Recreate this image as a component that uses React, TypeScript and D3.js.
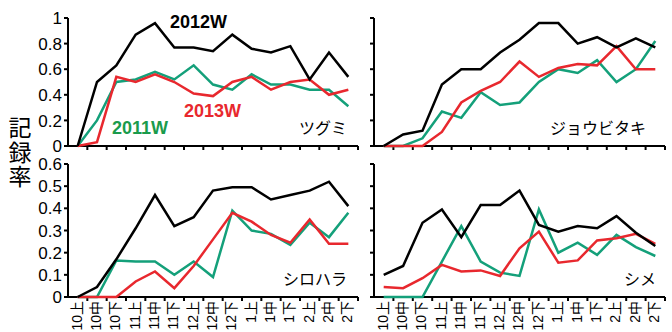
import React from "react";
import * as d3 from "d3";

// 旬 labels (10月上旬 ... 2月下旬)
const periods = ["10上", "10中", "10下", "11上", "11中", "11下", "12上", "12中", "12下", "1上", "1中", "1下", "2上", "2中", "2下"];

// ツグミ
const tsugumi2011 = [0, 0.2, 0.5, 0.52, 0.58, 0.52, 0.63, 0.48, 0.44, 0.56, 0.48, 0.48, 0.44, 0.44, 0.31];
const tsugumi2012 = [0, 0.5, 0.63, 0.87, 0.96, 0.77, 0.77, 0.74, 0.87, 0.76, 0.73, 0.78, 0.52, 0.73, 0.54];
const tsugumi2013 = [0, 0.03, 0.54, 0.5, 0.56, 0.5, 0.41, 0.39, 0.5, 0.54, 0.44, 0.5, 0.52, 0.4, 0.44];

// ジョウビタキ
const joubi2011 = [0, 0, 0.06, 0.27, 0.22, 0.42, 0.32, 0.34, 0.5, 0.6, 0.57, 0.67, 0.5, 0.6, 0.82];
const joubi2012 = [0, 0.09, 0.12, 0.48, 0.6, 0.6, 0.73, 0.83, 0.96, 0.96, 0.8, 0.85, 0.77, 0.84, 0.77];
const joubi2013 = [0, 0, 0, 0.11, 0.34, 0.43, 0.5, 0.66, 0.54, 0.61, 0.64, 0.63, 0.78, 0.6, 0.6];

// シロハラ
const shirohara2011 = [0, 0, 0.165, 0.16, 0.16, 0.1, 0.16, 0.09, 0.39, 0.3, 0.285, 0.235, 0.335, 0.27, 0.38];
const shirohara2012 = [0, 0.045, 0.17, 0.31, 0.46, 0.32, 0.36, 0.48, 0.495, 0.495, 0.44, 0.46, 0.48, 0.52, 0.41];
const shirohara2013 = [0, 0, 0, 0.07, 0.115, 0.04, 0.14, 0.26, 0.38, 0.34, 0.28, 0.245, 0.35, 0.24, 0.24];

// シメ
const shime2011 = [0, 0, 0, 0.16, 0.32, 0.16, 0.11, 0.095, 0.395, 0.2, 0.245, 0.19, 0.28, 0.225, 0.185];
const shime2012 = [0.1, 0.14, 0.335, 0.395, 0.27, 0.415, 0.415, 0.48, 0.325, 0.295, 0.32, 0.31, 0.365, 0.29, 0.23];
const shime2013 = [0.045, 0.04, 0.085, 0.145, 0.115, 0.12, 0.095, 0.22, 0.295, 0.155, 0.165, 0.255, 0.265, 0.285, 0.24];

const topTicks = [0, 0.2, 0.4, 0.6, 0.8, 1];
const bottomTicks = [0, 0.1, 0.2, 0.3, 0.4, 0.5, 0.6];

const GREEN = "#14a07a";
const GREEN_TEXT = "#1a9b4c";
const RED = "#e8282e";
const BLACK = "#000";

const numFont = "'Liberation Sans', Arial, sans-serif";
const jpFont = "'Noto Sans CJK JP', sans-serif";

function Panel(props: any) {
  const { x0, x1, y0, y1, max, ticks, showY, showX, s2011, s2012, s2013, name, nameX, nameY } = props;
  const x = d3.scaleBand().domain(periods).range([x0, x1]).padding(0);
  const y = d3.scaleLinear().domain([0, max]).range([y0, y1]);
  const cx = (p: string) => (x(p) as number) + x.bandwidth() / 2;
  const line = d3.line<number>().x((d, i) => cx(periods[i])).y(d => y(d));
  const edges = periods.map(p => (x(p) as number) + x.bandwidth());

  return (
    <g>
      {/* y axis */}
      <line x1={x0} x2={x0} y1={y0} y2={y1} stroke="#000" strokeWidth={2} />
      {ticks.map((t: number) => (
        <g key={t}>
          <line x1={x0 - 4} x2={x0} y1={y(t)} y2={y(t)} stroke="#000" strokeWidth={2} />
          {showY && (
            <text x={x0 - 6} y={y(t)} dy="0.36em" textAnchor="end" fontSize={17} fontFamily={numFont}>
              {String(t)}
            </text>
          )}
        </g>
      ))}
      {/* x axis */}
      <line x1={x0 - 3} x2={x1} y1={y0} y2={y0} stroke="#000" strokeWidth={2} />
      {edges.map((e, i) => (
        <line key={i} x1={e} x2={e} y1={y0} y2={y0 + 4} stroke="#000" strokeWidth={2} />
      ))}
      {showX &&
        periods.map(p => (
          <text
            key={p}
            transform={`translate(${cx(p) - 1},${y0 + 4}) rotate(-90)`}
            textAnchor="end"
            dy="0.35em"
            fontSize={14}
            fontFamily={`'Liberation Sans', ${jpFont}`}
          >
            {p}
          </text>
        ))}
      <path d={line(s2011) || ""} fill="none" stroke={GREEN} strokeWidth={2.5} />
      <path d={line(s2013) || ""} fill="none" stroke={RED} strokeWidth={2.5} />
      <path d={line(s2012) || ""} fill="none" stroke={BLACK} strokeWidth={2.5} />
      <text x={nameX} y={nameY} textAnchor="end" fontSize={16} fontFamily={jpFont}>
        {name}
      </text>
    </g>
  );
}

export default function App() {
  const L = [68, 358];
  const R = [374, 665];
  const T = [146, 18];
  const B = [297, 164];
  return (
    <div style={{ position: "fixed", left: 0, top: 0 }}>
      <svg width={672} height={332} style={{ display: "block", background: "#fff" }}>
        <Panel x0={L[0]} x1={L[1]} y0={T[0]} y1={T[1]} max={1} ticks={topTicks} showY showX={false}
          s2011={tsugumi2011} s2012={tsugumi2012} s2013={tsugumi2013} name="ツグミ" nameX={347} nameY={134} />
        <Panel x0={R[0]} x1={R[1]} y0={T[0]} y1={T[1]} max={1} ticks={topTicks} showY={false} showX={false}
          s2011={joubi2011} s2012={joubi2012} s2013={joubi2013} name="ジョウビタキ" nameX={646} nameY={134} />
        <Panel x0={L[0]} x1={L[1]} y0={B[0]} y1={B[1]} max={0.6} ticks={bottomTicks} showY showX
          s2011={shirohara2011} s2012={shirohara2012} s2013={shirohara2013} name="シロハラ" nameX={347} nameY={285} />
        <Panel x0={R[0]} x1={R[1]} y0={B[0]} y1={B[1]} max={0.6} ticks={bottomTicks} showY={false} showX
          s2011={shime2011} s2012={shime2012} s2013={shime2013} name="シメ" nameX={656} nameY={285} />

        <text x={112} y={134} fontSize={18} fontWeight="bold" fontFamily={numFont} fill={GREEN_TEXT}>2011W</text>
        <text x={170} y={28} fontSize={18} fontWeight="bold" fontFamily={numFont} fill={BLACK}>2012W</text>
        <text x={184} y={117} fontSize={18} fontWeight="bold" fontFamily={numFont} fill={RED}>2013W</text>

        {/* y label, vertical writing */}
        <text x={20} y={116} fontSize={23} fontFamily={jpFont} letterSpacing={1.5}
          style={{ writingMode: "vertical-rl", textOrientation: "upright" } as any}>
          記録率
        </text>
      </svg>
    </div>
  );
}
